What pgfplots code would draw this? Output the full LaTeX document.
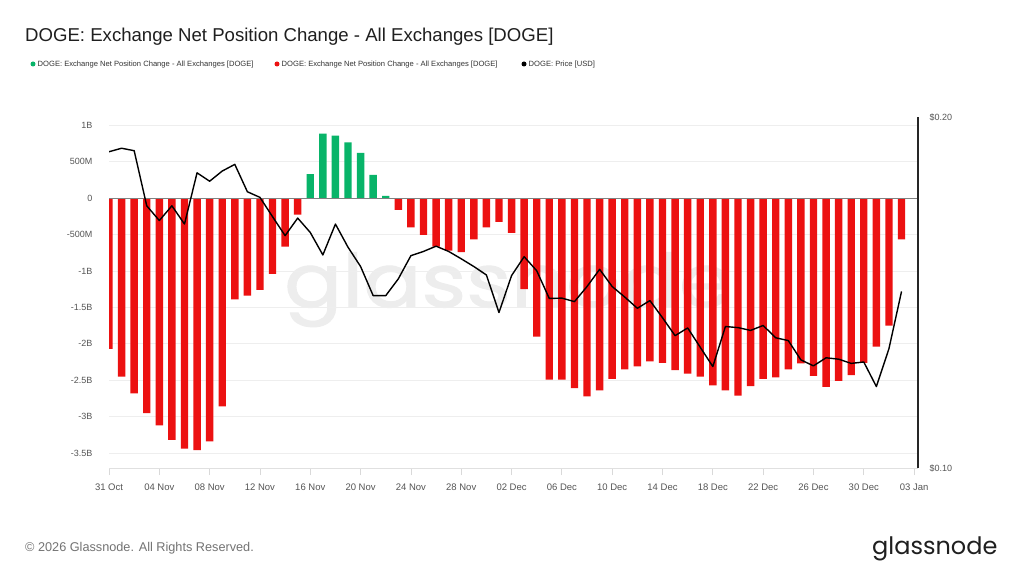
\documentclass[border=0pt]{standalone}
\usepackage{fontspec}
\setmainfont{Liberation Sans}
\newfontfamily\logofont{Poppins}
\newfontfamily\markfont{Poppins}[FakeBold=1.2]
\usepackage{pgfplots}
\pgfplotsset{compat=1.18}

\definecolor{posgreen}{RGB}{8,180,105}
\definecolor{negred}{RGB}{236,17,17}
\definecolor{labelgray}{RGB}{85,85,85}
\definecolor{gridgray}{RGB}{238,238,238}
\definecolor{wmgray}{RGB}{237,237,237}

% net position change, billions DOGE (day 0 = 31 Oct)
\pgfplotstableread{
day val
0 -2.07
1 -2.45
2 -2.68
3 -2.95
4 -3.12
5 -3.32
6 -3.44
7 -3.46
8 -3.34
9 -2.86
10 -1.39
11 -1.34
12 -1.26
13 -1.04
14 -0.665
15 -0.226
23 -0.162
24 -0.40
25 -0.505
26 -0.665
27 -0.72
28 -0.742
29 -0.565
30 -0.40
31 -0.326
32 -0.477
33 -1.25
34 -1.90
35 -2.49
36 -2.49
37 -2.61
38 -2.72
39 -2.64
40 -2.48
41 -2.35
42 -2.31
43 -2.24
44 -2.26
45 -2.36
46 -2.41
47 -2.45
48 -2.57
49 -2.64
50 -2.71
51 -2.58
52 -2.48
53 -2.46
54 -2.35
55 -2.27
56 -2.44
57 -2.59
58 -2.51
59 -2.43
60 -2.26
61 -2.04
62 -1.75
63 -0.565
}\outflows

\pgfplotstableread{
day val
16 0.328
17 0.885
18 0.857
19 0.767
20 0.62
21 0.32
22 0.03
}\inflows

% DOGE price, USD
\pgfplotstableread{
day usd
0 0.1901
1 0.1911
2 0.1904
3 0.1747
4 0.1705
5 0.1747
6 0.1695
7 0.1841
8 0.1817
9 0.1846
10 0.1865
11 0.1787
12 0.1771
13 0.1716
14 0.1662
15 0.1712
16 0.1671
17 0.1607
18 0.1695
19 0.1629
20 0.1574
21 0.1491
22 0.1491
23 0.1539
24 0.1605
25 0.1617
26 0.1632
27 0.1617
28 0.1596
29 0.1574
30 0.1550
31 0.1443
32 0.1548
33 0.1602
34 0.1562
35 0.1483
36 0.1484
37 0.1474
38 0.1517
39 0.1566
40 0.1517
41 0.1487
42 0.1455
43 0.1477
44 0.1428
45 0.1377
46 0.1399
47 0.1344
48 0.1289
49 0.1403
50 0.1400
51 0.1392
52 0.1406
53 0.1371
54 0.1363
55 0.1308
56 0.1291
57 0.1314
58 0.1310
59 0.1298
60 0.1302
61 0.1232
62 0.1340
63 0.1503
}\dogeprice

\begin{document}
\begin{tikzpicture}
\path[use as bounding box, fill=white] (0pt,0pt) rectangle (1024pt,576pt);

% watermark
\node[anchor=base west, inner sep=0, text=wmgray, xscale=1.16,
      font=\markfont\fontsize{74}{74}\selectfont] at (284pt,269pt) {glassnode};

% title
\node[anchor=base west, inner sep=0, text=black!88,
      font=\fontsize{18.6}{20}\selectfont] at (25pt,534pt)
  {DOGE: Exchange Net Position Change - All Exchanges [DOGE]};

% legend
\begin{scope}[every node/.style={anchor=base west, inner sep=0, text=black!80,
      font=\fontsize{7.6}{8}\selectfont}]
  \fill[posgreen] (33pt,512pt) circle (2.5pt);
  \node at (37.5pt,509.3pt) {DOGE: Exchange Net Position Change - All Exchanges [DOGE]};
  \fill[negred] (277pt,512pt) circle (2.5pt);
  \node at (281.5pt,509.3pt) {DOGE: Exchange Net Position Change - All Exchanges [DOGE]};
  \fill[black] (524pt,512pt) circle (2.5pt);
  \node at (528.5pt,509.3pt) {DOGE: Price [USD]};
\end{scope}

% footer
\node[anchor=base west, inner sep=0, text=black!55,
      font=\fontsize{12.7}{13}\selectfont] at (25pt,25pt)
  {© 2026 Glassnode. All Rights Reserved.};
\node[anchor=base west, inner sep=0, text=black!88,
      font=\logofont\fontsize{24}{24}\selectfont] at (872pt,22pt) {glassnode};

% net position change bars
\begin{axis}[
  at={(109pt,108pt)}, anchor=south west, scale only axis,
  width=809pt, height=351pt,
  xmin=0, xmax=64.31, ymin=-3.705, ymax=1.114,
  axis x line*=bottom, axis y line*=left,
  y axis line style={draw=none},
  x axis line style={draw=black!12, line width=0.8pt},
  ymajorgrids, grid style={gridgray, line width=0.8pt},
  ytick={-3.5,-3,-2.5,-2,-1.5,-1,-0.5,0,0.5,1},
  yticklabels={-3.5B,-3B,-2.5B,-2B,-1.5B,-1B,-500M,0,500M,1B},
  ytick style={draw=none},
  yticklabel style={font=\fontsize{9}{9}\selectfont, text=labelgray, xshift=-6pt},
  xtick={0,4,...,64},
  xticklabels={31 Oct,04 Nov,08 Nov,12 Nov,16 Nov,20 Nov,24 Nov,28 Nov,02 Dec,06 Dec,10 Dec,14 Dec,18 Dec,22 Dec,26 Dec,30 Dec,03 Jan},
  tick align=outside, major tick length=7pt,
  xtick style={draw=black!15, line width=0.8pt},
  xticklabel style={font=\fontsize{9.5}{9.5}\selectfont, text=labelgray, yshift=-5pt},
]
\addplot[ybar, bar width=7.4pt, bar shift=0pt, fill=negred, draw=none] table[x=day,y=val] {\outflows};
\addplot[ybar, bar width=7.4pt, bar shift=0pt, fill=posgreen, draw=none] table[x=day,y=val] {\inflows};
\draw[black!50, line width=0.8pt] (axis cs:0,0) -- (axis cs:64.31,0);
\end{axis}

% price axis on the right
\begin{axis}[
  at={(109pt,108pt)}, anchor=south west, scale only axis,
  width=809pt, height=351pt,
  xmin=0, xmax=64.31, ymin=0.1, ymax=0.2,
  axis x line=none, axis y line*=right,
  y axis line style={draw=black!85, line width=1.1pt},
  ytick={0.1,0.2}, yticklabels={\$0.10,\$0.20},
  ytick style={draw=none},
  yticklabel style={font=\fontsize{9}{9}\selectfont, text=labelgray, xshift=8pt},
]
\addplot[black, line width=1.4pt, line join=round] table[x=day,y=usd] {\dogeprice};
\end{axis}
\end{tikzpicture}
\end{document}
